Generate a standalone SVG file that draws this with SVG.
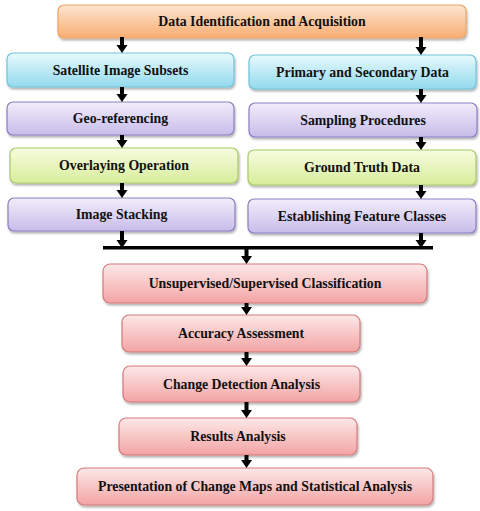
<svg xmlns="http://www.w3.org/2000/svg" xmlns:xlink="http://www.w3.org/1999/xlink" width="480" height="511" viewBox="0 0 480 511">
<style>
text{font-family:"Liberation Serif","Times New Roman",serif;font-weight:bold;font-size:13.8px;fill:#111;text-anchor:middle}
.b{stroke-width:1.2;filter:url(#sh)}
.or{fill:url(#gOr);stroke:#eea262}
.cy{fill:url(#gCy);stroke:#6fc4da}
.pu{fill:url(#gPu);stroke:#8d7ec0}
.gr{fill:url(#gGr);stroke:#a8c86a}
.pk{fill:url(#gPk);stroke:#d47b7b}
.arr{fill:#000}
</style>
<defs>
<filter id="sh" x="-5%" y="-20%" width="110%" height="150%"><feDropShadow dx="1" dy="2" stdDeviation="1.2" flood-color="#000" flood-opacity="0.3"/></filter>
<linearGradient id="gOr" x1="0" y1="0" x2="0" y2="1"><stop offset="0" stop-color="#fde6d2"/><stop offset="1" stop-color="#f8ad72"/></linearGradient>
<linearGradient id="gCy" x1="0" y1="0" x2="0" y2="1"><stop offset="0" stop-color="#e8f9fd"/><stop offset="1" stop-color="#93daed"/></linearGradient>
<linearGradient id="gPu" x1="0" y1="0" x2="0" y2="1"><stop offset="0" stop-color="#f1edfb"/><stop offset="1" stop-color="#c8bcea"/></linearGradient>
<linearGradient id="gGr" x1="0" y1="0" x2="0" y2="1"><stop offset="0" stop-color="#f7fcdf"/><stop offset="1" stop-color="#d7ed9b"/></linearGradient>
<linearGradient id="gPk" x1="0" y1="0" x2="0" y2="1"><stop offset="0" stop-color="#fde8e8"/><stop offset="1" stop-color="#f3a4a4"/></linearGradient>
</defs>

<g id="n-data"><rect class="b or" x="58" y="5" width="408" height="33" rx="6"/><text x="262" y="26">Data Identification and Acquisition</text></g>
<g id="n-sat"><rect class="b cy" x="7" y="53" width="227" height="34" rx="6"/><text x="120.5" y="74.5">Satellite Image Subsets</text></g>
<g id="n-prim"><rect class="b cy" x="249" y="55" width="227" height="34" rx="6"/><text x="362.5" y="76.5">Primary and Secondary Data</text></g>
<g id="n-geo"><rect class="b pu" x="7" y="102" width="227" height="33" rx="6"/><text x="120.5" y="123">Geo-referencing</text></g>
<g id="n-samp"><rect class="b pu" x="249" y="103" width="228" height="34" rx="6"/><text x="363" y="124.5">Sampling Procedures</text></g>
<g id="n-over"><rect class="b gr" x="10" y="148" width="228" height="35" rx="6"/><text x="124" y="170">Overlaying Operation</text></g>
<g id="n-ground"><rect class="b gr" x="248" y="150" width="228" height="35" rx="6"/><text x="362" y="172">Ground Truth Data</text></g>
<g id="n-stack"><rect class="b pu" x="8" y="198" width="227" height="33" rx="6"/><text x="121.5" y="219">Image Stacking</text></g>
<g id="n-feat"><rect class="b pu" x="248" y="199" width="228" height="34" rx="6"/><text x="362" y="220.5">Establishing Feature Classes</text></g>
<g id="n-class"><rect class="b pk" x="103" y="264" width="324" height="39" rx="7"/><text x="265" y="288">Unsupervised/Supervised Classification</text></g>
<g id="n-acc"><rect class="b pk" x="122" y="315" width="238" height="37" rx="7"/><text x="241" y="338">Accuracy Assessment</text></g>
<g id="n-change"><rect class="b pk" x="123" y="366" width="237" height="36" rx="7"/><text x="241.5" y="388.5">Change Detection Analysis</text></g>
<g id="n-res"><rect class="b pk" x="119" y="418" width="238" height="37" rx="7"/><text x="238" y="441">Results Analysis</text></g>
<g id="n-pres"><rect class="b pk" x="77" y="468" width="356" height="37" rx="7"/><text x="255" y="491">Presentation of Change Maps and Statistical Analysis</text></g>

<g id="connectors">
<rect x="103" y="246" width="330" height="3.5" fill="#000"/>
<path class="arr" d="M120,37V45H116.5L122,53L127.5,45H124V37Z"/>
<path class="arr" d="M120,87V94H116.5L122,102L127.5,94H124V87Z"/>
<path class="arr" d="M120,135V140H116.5L122,148L127.5,140H124V135Z"/>
<path class="arr" d="M120,183V190H116.5L122,198L127.5,190H124V183Z"/>
<path class="arr" d="M120,231V240H116.5L122,248L127.5,240H124V231Z"/>
<path class="arr" d="M419,37V47H415.5L421,55L426.5,47H423V37Z"/>
<path class="arr" d="M419,89V95H415.5L421,103L426.5,95H423V89Z"/>
<path class="arr" d="M419,137V142H415.5L421,150L426.5,142H423V137Z"/>
<path class="arr" d="M419,185V191H415.5L421,199L426.5,191H423V185Z"/>
<path class="arr" d="M419,233V240H415.5L421,248L426.5,240H423V233Z"/>
<path class="arr" d="M244.5,248V256H241L246.5,264L252,256H248.5V248Z"/>
<path class="arr" d="M244.5,303V307H241L246.5,315L252,307H248.5V303Z"/>
<path class="arr" d="M244.5,352V358H241L246.5,366L252,358H248.5V352Z"/>
<path class="arr" d="M244.5,402V410H241L246.5,418L252,410H248.5V402Z"/>
<path class="arr" d="M244.5,455V460H241L246.5,468L252,460H248.5V455Z"/>
</g>
</svg>
